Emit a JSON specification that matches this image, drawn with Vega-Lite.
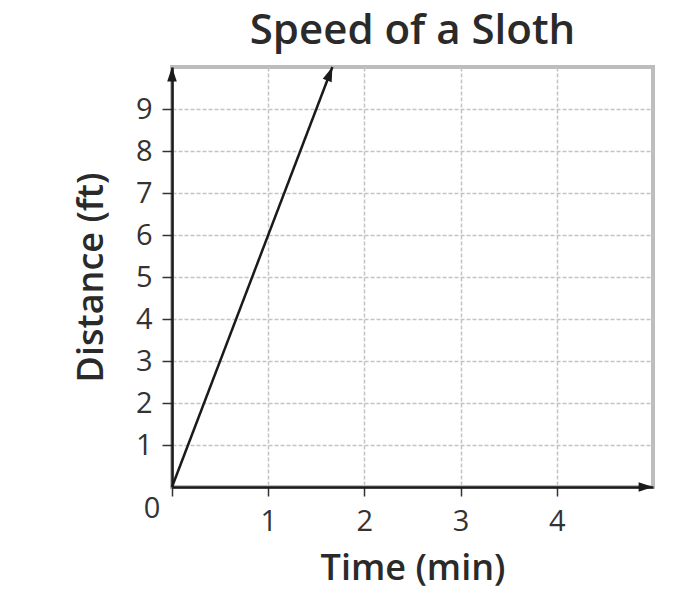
{
  "$schema": "https://vega.github.io/schema/vega-lite/v6.json",
  "autosize": "none",
  "padding": {"left": 172, "top": 67, "right": 23, "bottom": 117},
  "width": 481,
  "height": 420,
  "background": "white",
  "title": {
    "text": "Speed of a Sloth",
    "font": "Open Sans",
    "fontSize": 42,
    "fontWeight": 600,
    "color": "#2a2a2a",
    "anchor": "middle",
    "offset": 9
  },
  "config": {
    "view": {"stroke": "#bdbdbd", "strokeWidth": 4},
    "axis": {
      "labelFont": "Open Sans",
      "titleFont": "Open Sans",
      "labelFontSize": 29,
      "titleFontSize": 36,
      "labelColor": "#333",
      "titleColor": "#2a2a2a",
      "titleFontWeight": 600,
      "domainColor": "#1a1a1a",
      "domainWidth": 2.5,
      "tickColor": "#333",
      "tickWidth": 1.5,
      "gridColor": "#c4c4c4",
      "gridDash": [4, 2],
      "gridWidth": 1.5
    }
  },
  "datasets": {
    "sloth": [
      {"time": 0, "distance": 0},
      {"time": 1.667, "distance": 10}
    ],
    "origin": [{"time": 0, "distance": 0, "label": "0"}],
    "yEnd": [{"time": 0, "distance": 10}],
    "xEnd": [{"time": 5, "distance": 0}]
  },
  "layer": [
    {
      "data": {"name": "sloth"},
      "mark": {"type": "line", "color": "#1a1a1a", "strokeWidth": 2.5},
      "encoding": {
        "x": {
          "field": "time",
          "type": "quantitative",
          "scale": {"domain": [0, 5], "nice": false},
          "axis": {
            "title": "Time (min)",
            "values": [0, 0.5, 1, 1.5, 2, 2.5, 3, 3.5, 4, 4.5],
            "format": "d",
            "labelExpr": "datum.value % 1 === 0 && datum.value > 0 ? datum.label : ''",
            "tickSize": 9,
            "labelPadding": 11,
            "titlePadding": 15
          }
        },
        "y": {
          "field": "distance",
          "type": "quantitative",
          "scale": {"domain": [0, 10], "nice": false},
          "axis": {
            "title": "Distance (ft)",
            "values": [1, 2, 3, 4, 5, 6, 7, 8, 9],
            "format": "d",
            "tickSize": 10,
            "labelPadding": 10,
            "titlePadding": 25
          }
        }
      }
    },
    {
      "data": {"name": "sloth"},
      "transform": [{"filter": "datum.distance === 10"}],
      "mark": {
        "type": "point",
        "shape": "M0,0L-0.6,1.8L0.6,1.8Z",
        "size": 256,
        "angle": 21,
        "filled": true,
        "color": "#1a1a1a",
        "opacity": 1
      },
      "encoding": {
        "x": {"field": "time", "type": "quantitative"},
        "y": {"field": "distance", "type": "quantitative"}
      }
    },
    {
      "data": {"name": "yEnd"},
      "mark": {
        "type": "point",
        "shape": "M0,0L-0.6,1.8L0.6,1.8Z",
        "size": 256,
        "angle": 0,
        "filled": true,
        "color": "#1a1a1a",
        "opacity": 1
      },
      "encoding": {
        "x": {"field": "time", "type": "quantitative"},
        "y": {"field": "distance", "type": "quantitative"}
      }
    },
    {
      "data": {"name": "xEnd"},
      "mark": {
        "type": "point",
        "shape": "M0,0L-0.6,1.8L0.6,1.8Z",
        "size": 256,
        "angle": 90,
        "filled": true,
        "color": "#1a1a1a",
        "opacity": 1
      },
      "encoding": {
        "x": {"field": "time", "type": "quantitative"},
        "y": {"field": "distance", "type": "quantitative"}
      }
    },
    {
      "data": {"name": "origin"},
      "mark": {
        "type": "text",
        "font": "Open Sans",
        "fontSize": 29,
        "color": "#333",
        "dx": -20,
        "dy": 22
      },
      "encoding": {
        "x": {"field": "time", "type": "quantitative"},
        "y": {"field": "distance", "type": "quantitative"},
        "text": {"field": "label"}
      }
    }
  ]
}
